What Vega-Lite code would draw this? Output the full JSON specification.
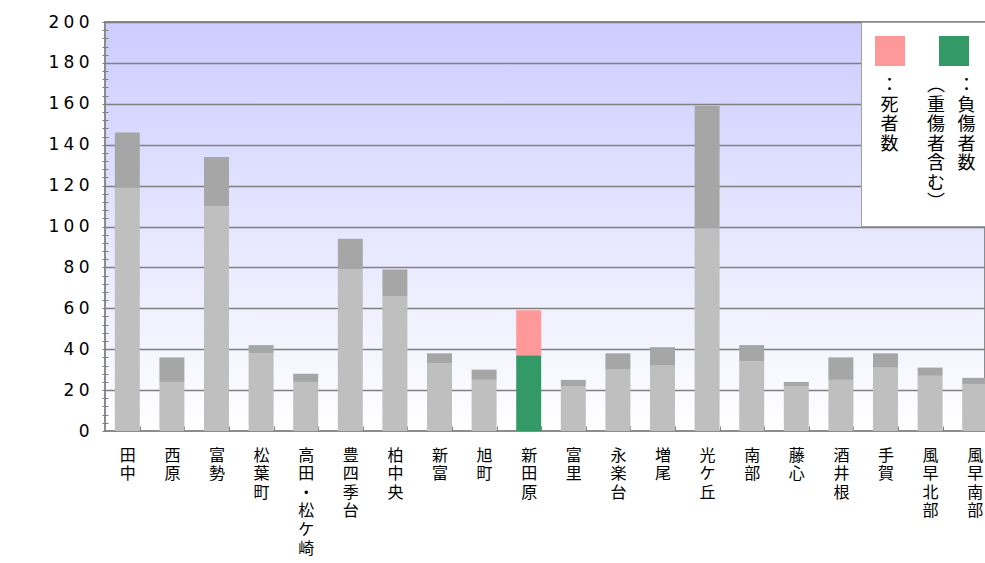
{
  "$schema": "https://vega.github.io/schema/vega-lite/v6.json",
  "width": 880,
  "height": 409,
  "autosize": {"type": "none"},
  "padding": {"left": 105, "top": 22, "right": 0, "bottom": 132},
  "background": "#ffffff",
  "config": {
    "view": {
      "stroke": "#8c8c8c",
      "strokeWidth": 2,
      "fill": {"gradient": "linear", "x1": 0, "y1": 0, "x2": 0, "y2": 1, "stops": [{"offset": 0, "color": "#ccccff"}, {"offset": 1, "color": "#ffffff"}]}
    }
  },
  "data": {
    "values": [
      {"area": "田中", "type": "負傷者数", "value": 119}, {"area": "田中", "type": "死者数", "value": 27},
      {"area": "西原", "type": "負傷者数", "value": 24}, {"area": "西原", "type": "死者数", "value": 12},
      {"area": "富勢", "type": "負傷者数", "value": 110}, {"area": "富勢", "type": "死者数", "value": 24},
      {"area": "松葉町", "type": "負傷者数", "value": 38}, {"area": "松葉町", "type": "死者数", "value": 4},
      {"area": "高田・松ケ崎", "type": "負傷者数", "value": 24}, {"area": "高田・松ケ崎", "type": "死者数", "value": 4},
      {"area": "豊四季台", "type": "負傷者数", "value": 79}, {"area": "豊四季台", "type": "死者数", "value": 15},
      {"area": "柏中央", "type": "負傷者数", "value": 66}, {"area": "柏中央", "type": "死者数", "value": 13},
      {"area": "新富", "type": "負傷者数", "value": 33}, {"area": "新富", "type": "死者数", "value": 5},
      {"area": "旭町", "type": "負傷者数", "value": 25}, {"area": "旭町", "type": "死者数", "value": 5},
      {"area": "新田原", "type": "負傷者数", "value": 37}, {"area": "新田原", "type": "死者数", "value": 22},
      {"area": "富里", "type": "負傷者数", "value": 22}, {"area": "富里", "type": "死者数", "value": 3},
      {"area": "永楽台", "type": "負傷者数", "value": 30}, {"area": "永楽台", "type": "死者数", "value": 8},
      {"area": "増尾", "type": "負傷者数", "value": 32}, {"area": "増尾", "type": "死者数", "value": 9},
      {"area": "光ケ丘", "type": "負傷者数", "value": 99}, {"area": "光ケ丘", "type": "死者数", "value": 60},
      {"area": "南部", "type": "負傷者数", "value": 34}, {"area": "南部", "type": "死者数", "value": 8},
      {"area": "藤心", "type": "負傷者数", "value": 22}, {"area": "藤心", "type": "死者数", "value": 2},
      {"area": "酒井根", "type": "負傷者数", "value": 25}, {"area": "酒井根", "type": "死者数", "value": 11},
      {"area": "手賀", "type": "負傷者数", "value": 31}, {"area": "手賀", "type": "死者数", "value": 7},
      {"area": "風早北部", "type": "負傷者数", "value": 27}, {"area": "風早北部", "type": "死者数", "value": 4},
      {"area": "風早南部", "type": "負傷者数", "value": 23}, {"area": "風早南部", "type": "死者数", "value": 3}
    ]
  },
  "mark": {"type": "bar"},
  "encoding": {
    "x": {
      "field": "area", "type": "nominal", "sort": null,
      "scale": {"range": [0, 892], "paddingInner": 0.44, "paddingOuter": 0.22},
      "axis": {
        "title": null, "domain": false, "ticks": true, "tickBand": "extent", "tickSize": -5,
        "tickColor": "#808080", "tickWidth": 1,
        "labelAngle": 0, "labelExpr": "split(datum.label, '')",
        "labelFont": "Noto Sans CJK JP", "labelFontSize": 16, "labelLineHeight": 18.6,
        "labelBaseline": "top", "labelAlign": "center", "labelPadding": 21,
        "labelColor": "#000000", "labelOverlap": false, "labelLimit": 0
      }
    },
    "y": {
      "field": "value", "type": "quantitative", "stack": "zero",
      "scale": {"domain": [0, 200], "nice": false},
      "axis": {
        "title": null, "domain": false, "offset": -3,
        "values": [0,4,8,12,16,20,24,28,32,36,40,44,48,52,56,60,64,68,72,76,80,84,88,92,96,100,104,108,112,116,120,124,128,132,136,140,144,148,152,156,160,164,168,172,176,180,184,188,192,196,200],
        "tickSize": 6, "tickColor": "#808080", "tickWidth": 1,
        "labelExpr": "datum.value % 20 === 0 ? join(split(datum.label, ''), '\u2005') : ''",
        "labelFont": "DejaVu Sans", "labelFontSize": 17, "labelColor": "#000000",
        "labelPadding": 13, "labelOverlap": false, "labelFlush": false,
        "grid": true, "gridColor": "#808080", "gridWidth": 1.5,
        "gridOpacity": {"condition": {"test": "datum.value % 20 === 0 && datum.value > 0", "value": 1}, "value": 0}
      }
    },
    "color": {
      "field": "type", "type": "nominal",
      "scale": {"domain": ["死者数", "負傷者数"], "range": ["#ff9999", "#339966"]},
      "condition": [
        {"test": "datum.area !== '新田原' && datum.type === '死者数'", "value": "#a6a6a6"},
        {"test": "datum.area !== '新田原'", "value": "#bfbfbf"}
      ],
      "legend": {
        "orient": "none", "legendX": 756, "legendY": 0, "direction": "horizontal", "title": null,
        "symbolType": "square", "symbolSize": 900, "symbolStrokeWidth": 0, "symbolOpacity": 1,
        "labelExpr": "datum.value === '死者数' ? ['：','死','者','数','\u3000','\u3000','\u3000'] : ['︵\u2002\u2009：','重\u2002\u2009負','傷\u2002\u2009傷','者\u2002\u2009者','含\u2002\u2009数','む','︶']",
        "labelFont": "Noto Sans CJK JP", "labelFontSize": 18,
        "labelAlign": "left", "labelBaseline": "top", "labelOffset": -42, "labelColor": "#000000", "labelLimit": 0,
        "columnPadding": 22, "padding": 14, "fillColor": "#ffffff", "strokeColor": "#a0a0a0",
        "encode": {"labels": {"update": {"dy": {"value": 26}, "lineHeight": {"value": 19.5}, "dx": {"signal": "datum.value === '死者数' ? 17.5 : 0"}}}}
      }
    },
    "order": {"field": "type", "sort": "descending"}
  }
}
